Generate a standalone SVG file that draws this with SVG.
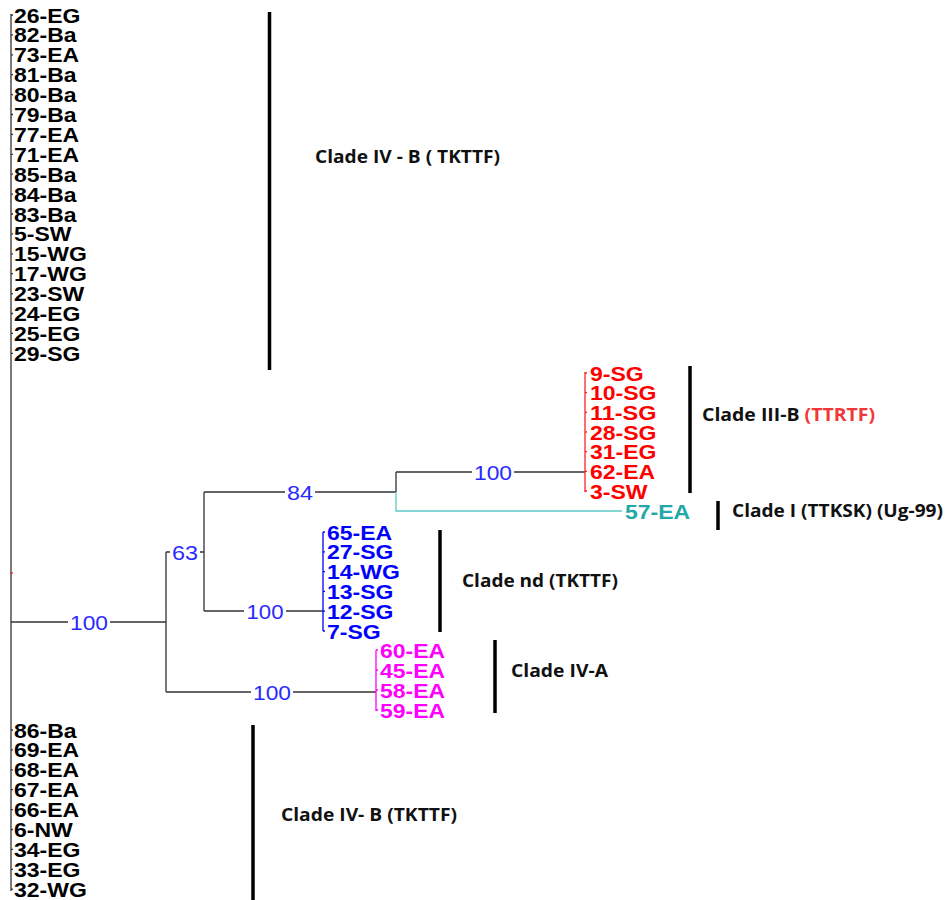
<svg xmlns="http://www.w3.org/2000/svg" width="947" height="900" viewBox="0 0 947 900">
<style>
.leaf{font-family:"Liberation Sans",Arial,sans-serif;font-weight:bold;font-size:20px;fill:#000}
.red{fill:#ff0000}.blue{fill:#0000ff}.mag{fill:#ff00ff}.teal{fill:#22a8a8}
.bs{font-family:"Liberation Sans",Arial,sans-serif;font-size:20px;fill:#2a2aff;text-anchor:middle}
.clade{font-family:"Open Sans","Liberation Sans",sans-serif;font-weight:bold;font-size:17px;fill:#111}
.br{stroke:#333;stroke-width:1.3;fill:none}
.bar{stroke:#000;stroke-width:3.5}
.bg{fill:#fff}
</style>
<rect width="947" height="900" fill="#fff"/>
<g id="connectors">
  <path class="br" d="M11 14V891"/>
  <path class="br" d="M11 15h2M11 34.9h2M11 54.8h2M11 74.7h2M11 94.6h2M11 114.5h2M11 134.4h2M11 154.3h2M11 174.2h2M11 194.1h2M11 214h2M11 233.9h2M11 253.8h2M11 273.7h2M11 293.6h2M11 313.5h2M11 333.4h2M11 353.3h2"/>
  <path class="br" d="M11 730h2M11 749.9h2M11 769.8h2M11 789.7h2M11 809.6h2M11 829.5h2M11 849.4h2M11 869.3h2M11 889.2h2"/>
  <path d="M10 573h3" stroke="#ff2020" stroke-width="1.3"/>
  <path class="br" d="M11 622H166M166 552V692M166 552H204M204 492V611M204 492H396M204 611H323M396 472V492M396 472H585M166 692H376"/>
  <path d="M396 492V511H622" stroke="#5cc8c8" stroke-width="1.3" fill="none"/>
  <path d="M585 372V492M585 373h2M585 392.7h2M585 412.3h2M585 432h2M585 451.7h2M585 471.3h2M585 491h2" stroke="#ff2020" stroke-width="1.3" fill="none"/>
  <path d="M323 532V631M323 532h2M323 551.8h2M323 571.6h2M323 591.4h2M323 611.2h2M323 631h2" stroke="#0000ff" stroke-width="1.3" fill="none"/>
  <path d="M376 650V711M376 650h2M376 670h2M376 690h2M376 710h2" stroke="#ff00ff" stroke-width="1.3" fill="none"/>
  <rect class="bg" x="68" y="611" width="42" height="22"/>
  <text class="bs" x="89" y="629.5" textLength="38" lengthAdjust="spacingAndGlyphs">100</text>
  <rect class="bg" x="170" y="541" width="30" height="22"/>
  <text class="bs" x="185" y="559.5" textLength="26" lengthAdjust="spacingAndGlyphs">63</text>
  <rect class="bg" x="285" y="481" width="30" height="22"/>
  <text class="bs" x="300" y="499.5" textLength="26" lengthAdjust="spacingAndGlyphs">84</text>
  <rect class="bg" x="244" y="600" width="42" height="22"/>
  <text class="bs" x="265" y="618.5" textLength="37" lengthAdjust="spacingAndGlyphs">100</text>
  <rect class="bg" x="472" y="461" width="42" height="22"/>
  <text class="bs" x="493" y="479.5" textLength="38" lengthAdjust="spacingAndGlyphs">100</text>
  <rect class="bg" x="251" y="681" width="42" height="22"/>
  <text class="bs" x="272" y="699.5" textLength="38" lengthAdjust="spacingAndGlyphs">100</text>
</g>
<g id="clade-IVB-top">
  <text class="leaf" x="14" y="22.5" textLength="66.5" lengthAdjust="spacingAndGlyphs">26-EG</text>
  <text class="leaf" x="14" y="42.4" textLength="62.6" lengthAdjust="spacingAndGlyphs">82-Ba</text>
  <text class="leaf" x="14" y="62.3" textLength="65.2" lengthAdjust="spacingAndGlyphs">73-EA</text>
  <text class="leaf" x="14" y="82.2" textLength="62.6" lengthAdjust="spacingAndGlyphs">81-Ba</text>
  <text class="leaf" x="14" y="102.1" textLength="62.6" lengthAdjust="spacingAndGlyphs">80-Ba</text>
  <text class="leaf" x="14" y="122" textLength="62.6" lengthAdjust="spacingAndGlyphs">79-Ba</text>
  <text class="leaf" x="14" y="141.9" textLength="65.2" lengthAdjust="spacingAndGlyphs">77-EA</text>
  <text class="leaf" x="14" y="161.8" textLength="65.2" lengthAdjust="spacingAndGlyphs">71-EA</text>
  <text class="leaf" x="14" y="181.7" textLength="62.6" lengthAdjust="spacingAndGlyphs">85-Ba</text>
  <text class="leaf" x="14" y="201.6" textLength="62.6" lengthAdjust="spacingAndGlyphs">84-Ba</text>
  <text class="leaf" x="14" y="221.5" textLength="62.6" lengthAdjust="spacingAndGlyphs">83-Ba</text>
  <text class="leaf" x="14" y="241.4" textLength="57.5" lengthAdjust="spacingAndGlyphs">5-SW</text>
  <text class="leaf" x="14" y="261.3" textLength="72.8" lengthAdjust="spacingAndGlyphs">15-WG</text>
  <text class="leaf" x="14" y="281.2" textLength="72.8" lengthAdjust="spacingAndGlyphs">17-WG</text>
  <text class="leaf" x="14" y="301.1" textLength="70.3" lengthAdjust="spacingAndGlyphs">23-SW</text>
  <text class="leaf" x="14" y="321" textLength="66.5" lengthAdjust="spacingAndGlyphs">24-EG</text>
  <text class="leaf" x="14" y="340.9" textLength="66.5" lengthAdjust="spacingAndGlyphs">25-EG</text>
  <text class="leaf" x="14" y="360.8" textLength="66.5" lengthAdjust="spacingAndGlyphs">29-SG</text>
  <line class="bar" x1="269.5" y1="12" x2="269.5" y2="370"/>
  <text class="clade" x="315" y="163" textLength="185" lengthAdjust="spacingAndGlyphs">Clade IV - B ( TKTTF)</text>
</g>
<g id="clade-IIIB">
  <text class="leaf red" x="590" y="380.5" textLength="53.7" lengthAdjust="spacingAndGlyphs">9-SG</text>
  <text class="leaf red" x="590" y="400.2" textLength="66.5" lengthAdjust="spacingAndGlyphs">10-SG</text>
  <text class="leaf red" x="590" y="419.8" textLength="66.5" lengthAdjust="spacingAndGlyphs">11-SG</text>
  <text class="leaf red" x="590" y="439.5" textLength="66.5" lengthAdjust="spacingAndGlyphs">28-SG</text>
  <text class="leaf red" x="590" y="459.2" textLength="66.5" lengthAdjust="spacingAndGlyphs">31-EG</text>
  <text class="leaf red" x="590" y="478.8" textLength="65.2" lengthAdjust="spacingAndGlyphs">62-EA</text>
  <text class="leaf red" x="590" y="498.5" textLength="57.5" lengthAdjust="spacingAndGlyphs">3-SW</text>
  <line class="bar" x1="690" y1="366" x2="690" y2="493"/>
  <text class="clade" x="702" y="421" textLength="173" lengthAdjust="spacingAndGlyphs">Clade III-B <tspan fill="#f03838">(TTRTF)</tspan></text>
</g>
<g id="clade-I">
  <text class="leaf teal" x="625" y="518.5" textLength="65.2" lengthAdjust="spacingAndGlyphs">57-EA</text>
  <line class="bar" x1="718" y1="501" x2="718" y2="530"/>
  <text class="clade" x="732" y="517" textLength="211" lengthAdjust="spacingAndGlyphs">Clade I (TTKSK) (Ug-99)</text>
</g>
<g id="clade-nd">
  <text class="leaf blue" x="327" y="539.5" textLength="65.2" lengthAdjust="spacingAndGlyphs">65-EA</text>
  <text class="leaf blue" x="327" y="559.3" textLength="66.5" lengthAdjust="spacingAndGlyphs">27-SG</text>
  <text class="leaf blue" x="327" y="579.1" textLength="72.8" lengthAdjust="spacingAndGlyphs">14-WG</text>
  <text class="leaf blue" x="327" y="598.9" textLength="66.5" lengthAdjust="spacingAndGlyphs">13-SG</text>
  <text class="leaf blue" x="327" y="618.7" textLength="66.5" lengthAdjust="spacingAndGlyphs">12-SG</text>
  <text class="leaf blue" x="327" y="638.5" textLength="53.7" lengthAdjust="spacingAndGlyphs">7-SG</text>
  <line class="bar" x1="440" y1="530" x2="440" y2="632"/>
  <text class="clade" x="462" y="587" textLength="156" lengthAdjust="spacingAndGlyphs">Clade nd (TKTTF)</text>
</g>
<g id="clade-IVA">
  <text class="leaf mag" x="380" y="657.5" textLength="65.2" lengthAdjust="spacingAndGlyphs">60-EA</text>
  <text class="leaf mag" x="380" y="677.5" textLength="65.2" lengthAdjust="spacingAndGlyphs">45-EA</text>
  <text class="leaf mag" x="380" y="697.5" textLength="65.2" lengthAdjust="spacingAndGlyphs">58-EA</text>
  <text class="leaf mag" x="380" y="717.5" textLength="65.2" lengthAdjust="spacingAndGlyphs">59-EA</text>
  <line class="bar" x1="495" y1="640" x2="495" y2="713"/>
  <text class="clade" x="511" y="677" textLength="97" lengthAdjust="spacingAndGlyphs">Clade IV-A</text>
</g>
<g id="clade-IVB-bottom">
  <text class="leaf" x="14" y="737.5" textLength="62.6" lengthAdjust="spacingAndGlyphs">86-Ba</text>
  <text class="leaf" x="14" y="757.4" textLength="65.2" lengthAdjust="spacingAndGlyphs">69-EA</text>
  <text class="leaf" x="14" y="777.3" textLength="65.2" lengthAdjust="spacingAndGlyphs">68-EA</text>
  <text class="leaf" x="14" y="797.2" textLength="65.2" lengthAdjust="spacingAndGlyphs">67-EA</text>
  <text class="leaf" x="14" y="817.1" textLength="65.2" lengthAdjust="spacingAndGlyphs">66-EA</text>
  <text class="leaf" x="14" y="837" textLength="58.8" lengthAdjust="spacingAndGlyphs">6-NW</text>
  <text class="leaf" x="14" y="856.9" textLength="66.5" lengthAdjust="spacingAndGlyphs">34-EG</text>
  <text class="leaf" x="14" y="876.8" textLength="66.5" lengthAdjust="spacingAndGlyphs">33-EG</text>
  <text class="leaf" x="14" y="896.7" textLength="72.8" lengthAdjust="spacingAndGlyphs">32-WG</text>
  <line class="bar" x1="253" y1="725" x2="253" y2="900"/>
  <text class="clade" x="281" y="821" textLength="176" lengthAdjust="spacingAndGlyphs">Clade IV- B (TKTTF)</text>
</g>
</svg>
